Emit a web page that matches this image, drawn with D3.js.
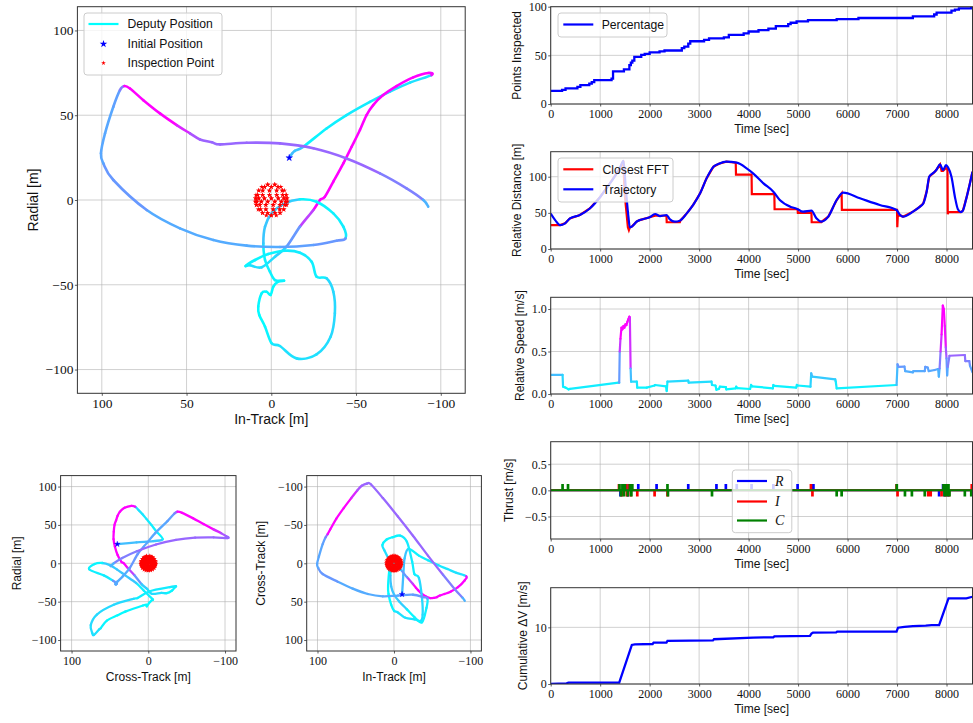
<!DOCTYPE html>
<html>
<head>
<meta charset="utf-8">
<script src="https://cdn.jsdelivr.net/npm/d3@7"></script>
<style>
  body { margin: 0; background: #fff; }
  svg { display: block; }
</style>
</head>
<body>
<svg id="fig" width="973" height="723"></svg>
<script>
// ---------------- Deputy trajectory (Hill frame, metres) ----------------
const trajInTrack = [
  -10.6, -12.2, -13.9, -19.0, -32.6, -44.4, -58.2, -70.0, -81.8, -94.5,
  -92.6, -83.7, -73.9, -66.0, -60.1, -56.2, -52.3, -47.4, -42.5, -36.6, -31.6, -28.7, -24.8, -16.9, -9.0, -2.2, 5.7,
  12.6, 15.1, 9.6, 1.8, -8.1, -16.9, -23.8, -26.7, -32.6, -36.6, -37.5, -35.0, -26.7, -14.9, -5.1, -0.2, 3.7, 7.1, 7.7, 5.7, 2.8, 0.4, -1.2, -4.1, -7.5,
  -2.2, 0.8, 3.7, 4.7, 3.7, -0.2, -7.1, -16.9, -26.7, -36.6, -42.5, -43.8,
  -38.5, -24.8, -5.1, 14.5, 34.2, 53.9, 73.5, 93.2, 99.1, 100.5, 98.1, 93.2, 89.3, 86.7,
  83.4, 75.5, 65.7, 55.8, 48.0, 42.1, 35.0, 30.3,
  14.5, -5.1, -24.8, -44.4, -64.1, -79.8, -89.7, -92.6
];
const trajCrossTrack = [
  40.4, 15.3, -6.5, -18.7, -10, -4, 2.5, 7.5, 12.5, 17,
  22, 31, 37, 40, 42, 44, 45, 45.3, 43.5, 40, 35, 32, 27, 18, 8.5, 1.5, -4.4,
  -17, -24, -31, -34, -36, -28, -2, 14, 19, 45, 67, 75, 73, 71, 64, 62, 54, 40, 30, 7, 2, 2, -1.5, -4.5, -5,
  -6, -1, 6, 16, 30, 41, 50, 60, 70, 77, 58, 46,
  44, 41, 42, 43, 40, 33, 24, 14, 6, 1, -9, -25, -34, -38,
  -44, -58, -72, -85, -95, -101, -104, -103,
  -85, -61, -36, -10, 15, 34, 45, 49
];
const trajRadial = [
  24.9, 27.3, 29.0, 31.5, 42.2, 50.1, 57.9, 63.9, 69.2, 73.7,
  74.9, 72.3, 67.2, 61.9, 56.0, 50.1, 41.3, 31.4, 21.6, 10.8, 1.9, 0.0, -5.9, -15.7, -27.5, -33.4, -39.7,
  -38.5, -38.9, -35.4, -31.9, -29.9, -31.1, -36.4, -45.2, -46.2, -54.1, -66.8, -80.6, -91.0, -93.4, -86.1, -84.5, -74.7, -67.8, -62.9, -55.0, -54.1, -56.0, -51.1, -48.2, -47.6,
  -47.2, -42.3, -35.4, -25.6, -15.7, -7.9, -2.4, 0.4, -1.0, -7.9, -15.7, -22.6,
  -24.0, -26.5, -27.7, -26.9, -23.6, -16.7, -5.9, 11.8, 21.6, 27.5, 39.3, 55.0, 64.8, 67.2,
  65.8, 58.9, 51.1, 44.2, 39.3, 35.7, 34.0, 32.8,
  33.8, 33.4, 30.5, 24.5, 15.7, 6.9, 0.0, -3.9
];
const trajSpeed = [
  0.22, 0.22, 0.22, 0.2, 0.08, 0.09, 0.10, 0.11, 0.12, 0.13,
  0.7, 0.78, 0.8, 0.8, 0.82, 0.85, 0.88, 0.9, 0.9, 0.9, 0.88, 0.85, 0.8, 0.55, 0.32, 0.18, 0.14,
  0.14, 0.12, 0.075, 0.075, 0.08, 0.1, 0.1, 0.09, 0.09, 0.15, 0.15, 0.15, 0.14, 0.13, 0.13, 0.12, 0.08, 0.06, 0.06, 0.07, 0.07, 0.06, 0.06, 0.07, 0.07,
  0.08, 0.08, 0.09, 0.09, 0.2, 0.2, 0.19, 0.18, 0.07, 0.08, 0.09, 0.1,
  0.33, 0.32, 0.3, 0.27, 0.27, 0.27, 0.27, 0.32, 0.32, 0.28, 0.28, 0.28, 0.3, 0.4,
  0.9, 1.03, 0.95, 0.8, 0.62, 0.5, 0.46, 0.45,
  0.45, 0.45, 0.45, 0.45, 0.45, 0.39, 0.38, 0.25
];
// Speed range mapped onto the cyan-to-magenta color scale (values above are clipped)
const speedColorLimits = [0.05, 0.72];

// Inspection points on a sphere around the chief: latitude rings and points per ring
const inspectionRadius = 9.5;
const inspectionRingLat = [-72, -54, -36, -18, -6, 6, 18, 36, 54, 72];
const inspectionRingCount = [4, 8, 11, 13, 14, 14, 13, 11, 8, 4];

// ---------------- Time histories ----------------
const timeTicks = [0, 1000, 2000, 3000, 4000, 5000, 6000, 7000, 8000];

const pointsInspected = [
  [0, 13.5], [230, 14.5], [300, 16], [540, 17.5], [600, 19.5], [780, 21], [830, 22.5], [880, 24.5],
  [1230, 26], [1260, 33.5], [1480, 35.5], [1590, 40], [1620, 42.5], [1650, 44.5], [1690, 48.5],
  [1830, 50.5], [1900, 51.5], [2000, 53], [2200, 54], [2300, 55], [2650, 57.5], [2700, 59],
  [2780, 62], [2820, 64.5], [3100, 66], [3200, 67.5], [3500, 68.5], [3600, 71], [3900, 72.5],
  [4000, 74.5], [4200, 76], [4400, 77.5], [4550, 80], [4800, 82], [4850, 83.5], [4970, 85],
  [5200, 86.3], [5780, 87.3], [6220, 88.4], [7320, 90], [7750, 92], [7800, 94], [8100, 96],
  [8170, 97], [8250, 98.2], [8500, 99], [8525, 99]
];

const distTrajectory = [
  [0, 49], [90, 40], [190, 33], [290, 35.5], [390, 42.4], [590, 47], [790, 56], [1000, 72],
  [1200, 91], [1400, 112], [1470, 122], [1520, 82], [1570, 45], [1600, 30], [1640, 31],
  [1740, 38], [1800, 40], [2000, 44], [2110, 48.4], [2210, 45.6], [2340, 47], [2410, 41],
  [2510, 37.8], [2610, 39.2], [2750, 49.3], [2880, 61], [3020, 77], [3150, 97.7], [3290, 113.9],
  [3400, 118], [3550, 120.8], [3760, 119.4], [3960, 111.6], [4090, 104.7], [4300, 90.8], [4500, 79.3],
  [4630, 67.8], [4840, 58.6], [4970, 55.8], [5100, 51.6], [5270, 53], [5370, 42.4], [5470, 37.8],
  [5610, 44.7], [5780, 67.8], [5910, 77.9], [6250, 70.1], [6650, 60.9], [6990, 53.9], [7060, 47],
  [7120, 44.7], [7330, 52], [7450, 58], [7530, 63], [7600, 80], [7650, 100], [7750, 106],
  [7800, 110], [7870, 117], [7930, 109], [7990, 116], [8030, 113], [8100, 100], [8170, 72],
  [8230, 55], [8290, 51], [8330, 53], [8400, 70], [8470, 90], [8525, 107]
];

const distClosestFFT = [
  [0, 33], [190, 33], [290, 35.5], [390, 42.4], [590, 47], [790, 56], [1000, 72], [1200, 91],
  [1400, 112], [1470, 122], [1490, 80], [1560, 30], [1580, 26], [1600, 30], [1640, 31],
  [1740, 38], [1800, 40], [2000, 44], [2110, 46], [2340, 46], [2345, 37], [2610, 37],
  [2620, 39.2], [2750, 49.3], [2880, 61], [3020, 77], [3150, 97.7], [3290, 113.9], [3400, 118],
  [3550, 120.8], [3740, 119.4], [3745, 103], [4060, 103], [4065, 76], [4520, 76], [4525, 55],
  [4990, 55], [4995, 50], [5270, 50], [5275, 37], [5470, 37], [5480, 38], [5610, 44.7],
  [5780, 67.8], [5880, 77], [5885, 54], [6990, 54], [7000, 54], [7005, 30], [7015, 45],
  [7060, 47], [7120, 44.7], [7330, 52], [7450, 58], [7530, 63], [7600, 80], [7650, 100],
  [7750, 106], [7800, 110], [7870, 117], [7900, 108], [7930, 108], [7990, 112], [8020, 110],
  [8025, 48], [8035, 51], [8290, 51], [8330, 53], [8400, 70], [8470, 90], [8525, 107]
];

const relSpeed = [
  [0, 0.224], [240, 0.224], [250, 0.086], [300, 0.075], [360, 0.055], [390, 0.06], [1370, 0.133],
  [1385, 0.133], [1395, 0.5], [1410, 0.65], [1430, 0.78], [1450, 0.76], [1470, 0.8], [1490, 0.78],
  [1510, 0.82], [1530, 0.81], [1550, 0.85], [1570, 0.88], [1590, 0.91], [1600, 0.9], [1615, 0.3],
  [1625, 0.145], [1740, 0.145], [1750, 0.075], [1940, 0.075], [2100, 0.1], [2110, 0.106],
  [2330, 0.09], [2345, 0.035], [2360, 0.145], [2780, 0.157], [2790, 0.133], [3250, 0.145],
  [3260, 0.106], [3330, 0.1], [3350, 0.05], [3400, 0.06], [3420, 0.086], [3540, 0.08],
  [3550, 0.055], [3740, 0.067], [3750, 0.086], [3770, 0.07], [4030, 0.059], [4050, 0.106],
  [4070, 0.09], [4490, 0.067], [4500, 0.106], [4520, 0.095], [4960, 0.075], [4975, 0.106],
  [4990, 0.1], [5250, 0.086], [5265, 0.243], [5285, 0.204], [5750, 0.173], [5760, 0.15],
  [5780, 0.067], [6990, 0.106], [7010, 0.349], [7030, 0.32], [7150, 0.322], [7165, 0.27],
  [7320, 0.255], [7330, 0.27], [7560, 0.27], [7570, 0.32], [7620, 0.31], [7640, 0.27],
  [7760, 0.282], [7830, 0.294], [7845, 0.204], [7860, 0.3], [7880, 0.5], [7900, 0.7],
  [7925, 1.04], [7945, 1.0], [7965, 0.8], [7985, 0.55], [8000, 0.42], [8012, 0.22],
  [8025, 0.32], [8060, 0.45], [8370, 0.459], [8380, 0.388], [8460, 0.388], [8475, 0.33],
  [8525, 0.255]
];

// Thrust pulses [time, value]
const thrustR = [
  [1410, -0.1], [1460, 0.1], [1530, 0.1], [1560, -0.1], [1770, 0.1], [2140, 0.1], [2780, 0.1],
  [3350, 0.1], [3540, 0.1], [3760, 0.1], [4060, 0.1], [4500, 0.1], [4990, 0.1], [5270, 0.1],
  [5310, 0.1], [7850, -0.1], [7930, 0.1], [7960, -0.1], [8000, 0.1], [8030, -0.1]
];
const thrustI = [
  [1380, 0.1], [1440, -0.1], [1470, 0.1], [1520, 0.1], [1540, -0.1], [1580, 0.1], [1620, -0.1],
  [1750, -0.1], [2100, -0.1], [2360, -0.1], [5260, 0.1], [5290, -0.1], [6990, 0.1], [7010, -0.1],
  [7630, -0.1], [7680, -0.1], [7900, -0.1], [7950, 0.1], [7980, -0.1], [8020, 0.1], [8050, -0.1],
  [8510, 0.1]
];
const thrustC = [
  [240, 0.1], [350, 0.1], [1390, 0.1], [1420, -0.1], [1450, 0.1], [1480, -0.1], [1500, 0.1],
  [1560, -0.1], [1600, 0.1], [1630, -0.1], [1650, 0.1], [2360, 0.1], [2370, -0.1], [3260, -0.1],
  [5780, -0.1], [5880, -0.1], [6995, 0.1], [7160, -0.1], [7300, -0.1], [7560, -0.1], [7940, 0.1],
  [7960, -0.1], [7990, 0.1], [8010, -0.1], [8040, 0.1], [8060, -0.1], [8370, -0.1], [8500, -0.1]
];

const cumulativeDV = [
  [0, 0], [320, 0.12], [360, 0.24], [1385, 0.24], [1640, 6.9], [1700, 7.0], [2060, 7.06],
  [2080, 7.3], [2340, 7.3], [2360, 7.6], [3280, 7.7], [3300, 7.9], [4090, 8.2], [4500, 8.24],
  [4520, 8.4], [5240, 8.5], [5270, 8.9], [5300, 9.06], [5770, 9.1], [5790, 9.24], [6990, 9.24],
  [7020, 9.94], [7150, 10.1], [7320, 10.2], [7580, 10.3], [7700, 10.4], [7850, 10.4],
  [8040, 15.1], [8400, 15.1], [8525, 15.4]
];

// ---------------- Drawing ----------------
const svg = d3.select("#fig");
const defs = svg.append("defs");
const TICK_FONT = "'Liberation Serif', 'DejaVu Serif', serif";
const LABEL_FONT = "'Liberation Sans', Arial, sans-serif";
const INK = "#333";

const speedColor = d3.scaleLinear()
  .domain(speedColorLimits)
  .range(["#00ffff", "#ff00ff"])
  .interpolate(d3.interpolateRgb)
  .clamp(true);

let clipCount = 0;
function makePanel(box, xDom, yDom, o) {
  const x = d3.scaleLinear().domain(xDom).range([box.left, box.right]);
  const y = d3.scaleLinear().domain(yDom).range([box.bottom, box.top]);
  const g = svg.append("g");
  const grid = g.append("g").attr("stroke", "#b0b0b0").attr("stroke-width", 0.8).attr("stroke-opacity", 0.75);
  o.xTicks.forEach(t => grid.append("line").attr("x1", x(t)).attr("x2", x(t)).attr("y1", box.top).attr("y2", box.bottom));
  o.yTicks.forEach(t => grid.append("line").attr("y1", y(t)).attr("y2", y(t)).attr("x1", box.left).attr("x2", box.right));
  const id = "clip" + (clipCount++);
  defs.append("clipPath").attr("id", id).append("rect")
    .attr("x", box.left).attr("y", box.top)
    .attr("width", box.right - box.left).attr("height", box.bottom - box.top);
  const plot = g.append("g").attr("clip-path", `url(#${id})`);
  const frame = g.append("g");

  const fs = o.tickSize || 12;
  const ax = frame.append("g").attr("transform", `translate(0,${box.bottom})`)
    .call(d3.axisBottom(x).tickValues(o.xTicks).tickFormat(o.xFmt || d3.format("d"))
      .tickSizeInner(2.5).tickSizeOuter(0).tickPadding(o.xPad || 2.5));
  const ay = frame.append("g").attr("transform", `translate(${box.left},0)`)
    .call(d3.axisLeft(y).tickValues(o.yTicks).tickFormat(o.yFmt || d3.format("d"))
      .tickSizeInner(2.5).tickSizeOuter(0).tickPadding(1.5));
  [ax, ay].forEach(a => {
    a.select(".domain").remove();
    a.attr("font-family", TICK_FONT).attr("font-size", fs);
    a.selectAll("line").attr("stroke", INK).attr("stroke-width", 0.8);
    a.selectAll("text").attr("fill", "#111");
  });
  frame.append("rect").attr("x", box.left).attr("y", box.top)
    .attr("width", box.right - box.left).attr("height", box.bottom - box.top)
    .attr("fill", "none").attr("stroke", INK).attr("stroke-width", 1);

  const lfs = o.labelSize || 12;
  if (o.xLabel) {
    frame.append("text").attr("x", (box.left + box.right) / 2).attr("y", o.xLabelY)
      .attr("text-anchor", "middle").attr("font-family", LABEL_FONT).attr("font-size", lfs)
      .attr("fill", "#111").text(o.xLabel);
  }
  if (o.yLabel) {
    frame.append("text")
      .attr("transform", `translate(${o.yLabelX},${(box.top + box.bottom) / 2}) rotate(-90)`)
      .attr("text-anchor", "middle").attr("font-family", LABEL_FONT).attr("font-size", lfs)
      .attr("fill", "#111").text(o.yLabel);
  }
  return { x, y, plot, frame, box };
}

function legendBox(layer, x0, y0, w, h) {
  layer.append("rect").attr("x", x0).attr("y", y0).attr("width", w).attr("height", h)
    .attr("rx", 3).attr("fill", "#fff").attr("fill-opacity", 0.8)
    .attr("stroke", "#cccccc").attr("stroke-width", 1);
}
function legendText(layer, x0, y0, label, size, family, italic) {
  layer.append("text").attr("x", x0).attr("y", y0).attr("dy", "0.35em")
    .attr("font-family", family || LABEL_FONT).attr("font-size", size || 12)
    .attr("font-style", italic ? "italic" : null).attr("fill", "#111").text(label);
}

// Colored trajectory drawn segment by segment (Catmull-Rom smoothing in screen space)
function drawTrajectory(panel, xs, ys, width) {
  const P = xs.map((v, i) => [panel.x(v), panel.y(ys[i])]);
  const n = P.length;
  const gT = panel.plot.append("g").attr("fill", "none").attr("stroke-width", width).attr("stroke-linecap", "round");
  for (let i = 0; i < n - 1; i++) {
    const p0 = P[Math.max(i - 1, 0)], p1 = P[i], p2 = P[i + 1], p3 = P[Math.min(i + 2, n - 1)];
    const c1 = [p1[0] + (p2[0] - p0[0]) / 6, p1[1] + (p2[1] - p0[1]) / 6];
    const c2 = [p2[0] - (p3[0] - p1[0]) / 6, p2[1] - (p3[1] - p1[1]) / 6];
    gT.append("path")
      .attr("d", `M${p1[0]},${p1[1]}C${c1[0]},${c1[1]} ${c2[0]},${c2[1]} ${p2[0]},${p2[1]}`)
      .attr("stroke", speedColor(trajSpeed[i + 1]));
  }
}

const inspectionPoints = [];
inspectionRingLat.forEach((lat, k) => {
  const n = inspectionRingCount[k];
  const la = lat * Math.PI / 180;
  for (let j = 0; j < n; j++) {
    const lo = 2 * Math.PI * (j + 0.5 * (k % 2)) / n;
    inspectionPoints.push({
      inTrack: inspectionRadius * Math.cos(la) * Math.cos(lo),
      cross: inspectionRadius * Math.cos(la) * Math.sin(lo),
      radial: inspectionRadius * Math.sin(la)
    });
  }
});
function drawInspection(panel, kx, ky, size) {
  const sym = d3.symbol(d3.symbolStar, size);
  panel.plot.append("g").selectAll("path").data(inspectionPoints).join("path")
    .attr("d", sym).attr("fill", "#ff0000")
    .attr("transform", d => `translate(${panel.x(d[kx])},${panel.y(d[ky])})`);
}
function drawStart(panel, xv, yv, size) {
  panel.plot.append("path").attr("d", d3.symbol(d3.symbolStar, size))
    .attr("fill", "#0000ff").attr("stroke", "#0000ff").attr("stroke-width", 0.4)
    .attr("transform", `translate(${panel.x(xv)},${panel.y(yv)})`);
}

// ---- Main view: In-Track vs Radial ----
const posTicks = [100, 50, 0, -50, -100];
const main = makePanel({ left: 77.4, right: 465.2, top: 6.7, bottom: 393.3 },
  [114.4, -114.4], [-114, 114],
  { xTicks: posTicks, yTicks: posTicks, tickSize: 13.5, xPad: 2.5, labelSize: 14,
    xLabel: "In-Track [m]", xLabelY: 424, yLabel: "Radial [m]", yLabelX: 38 });
drawTrajectory(main, trajInTrack, trajRadial, 2.6);
drawInspection(main, "inTrack", "radial", 9);
drawStart(main, trajInTrack[0], trajRadial[0], 14);
{
  const L = main.frame.append("g");
  legendBox(L, 84, 13, 138, 62);
  L.append("line").attr("x1", 88.5).attr("x2", 118.5).attr("y1", 24).attr("y2", 24)
    .attr("stroke", speedColor.range()[0]).attr("stroke-width", 2.2);
  L.append("path").attr("d", d3.symbol(d3.symbolStar, 18)).attr("fill", "#0000ff")
    .attr("transform", "translate(103.5,44)");
  L.append("path").attr("d", d3.symbol(d3.symbolStar, 7)).attr("fill", "#ff0000")
    .attr("transform", "translate(103.5,63)");
  legendText(L, 127.5, 24, "Deputy Position", 12.2);
  legendText(L, 127.5, 44, "Initial Position", 12.2);
  legendText(L, 127.5, 63, "Inspection Point", 12.2);
}

// ---- Cross-Track vs Radial ----
const smallTicks = [100, 0, -100];
const crossRad = makePanel({ left: 60.6, right: 236, top: 475.6, bottom: 651 },
  [114.3, -114.3], [-114.3, 114.3],
  { xTicks: smallTicks, yTicks: posTicks, tickSize: 12, xPad: 2.5,
    xLabel: "Cross-Track [m]", xLabelY: 680.5, yLabel: "Radial [m]", yLabelX: 20.5 });
drawTrajectory(crossRad, trajCrossTrack, trajRadial, 2.3);
drawInspection(crossRad, "cross", "radial", 9);
drawStart(crossRad, trajCrossTrack[0], trajRadial[0], 10);

// ---- In-Track vs Cross-Track ----
const inCross = makePanel({ left: 306.7, right: 481.4, top: 475.6, bottom: 651 },
  [114.1, -114.3], [114.3, -114.3],
  { xTicks: smallTicks, yTicks: [-100, -50, 0, 50, 100], tickSize: 12, xPad: 2.5,
    xLabel: "In-Track [m]", xLabelY: 680.5, yLabel: "Cross-Track [m]", yLabelX: 264.8 });
drawTrajectory(inCross, trajInTrack, trajCrossTrack, 2.3);
drawInspection(inCross, "inTrack", "cross", 9);
drawStart(inCross, trajInTrack[0], trajCrossTrack[0], 10);

// ---- Time-history panels ----
const TL = 550.7, TR = 972.5, TMAX = 8525;
function timePanel(top, bottom, yDom, yTicks, yFmt, yLabel, yLabelX) {
  return makePanel({ left: TL, right: TR, top, bottom }, [0, TMAX], yDom,
    { xTicks: timeTicks, yTicks, yFmt, tickSize: 12, xPad: 2.5,
      xLabel: "Time [sec]", xLabelY: bottom + 28.8, yLabel, yLabelX });
}

// Points inspected
const p1 = timePanel(6.7, 104, [0, 100], [0, 50, 100], d3.format("d"), "Points Inspected", 521.4);
p1.plot.append("path").datum(pointsInspected)
  .attr("d", d3.line().x(d => p1.x(d[0])).y(d => p1.y(d[1])).curve(d3.curveStepAfter))
  .attr("fill", "none").attr("stroke", "#0000ff").attr("stroke-width", 2.3);
{
  const L = p1.frame.append("g");
  legendBox(L, 558, 13, 109, 24);
  L.append("line").attr("x1", 563.3).attr("x2", 593.3).attr("y1", 24.5).attr("y2", 24.5)
    .attr("stroke", "#0000ff").attr("stroke-width", 2.2);
  legendText(L, 601.7, 24.5, "Percentage", 12.2);
}

// Relative distance
const p2 = timePanel(151.7, 249, [0, 134.6], [0, 50, 100], d3.format("d"), "Relative Distance [m]", 521.4);
const distLine = d3.line().x(d => p2.x(d[0])).y(d => p2.y(d[1]));
p2.plot.append("path").datum(distClosestFFT).attr("d", distLine)
  .attr("fill", "none").attr("stroke", "#ff0000").attr("stroke-width", 2.2);
p2.plot.append("path").datum(distTrajectory).attr("d", distLine.curve(d3.curveMonotoneX))
  .attr("fill", "none").attr("stroke", "#0000ff").attr("stroke-width", 2.2);
{
  const L = p2.frame.append("g");
  legendBox(L, 558, 158, 115, 44);
  L.append("line").attr("x1", 563.3).attr("x2", 593.3).attr("y1", 169.3).attr("y2", 169.3)
    .attr("stroke", "#ff0000").attr("stroke-width", 2.2);
  L.append("line").attr("x1", 563.3).attr("x2", 593.3).attr("y1", 189.3).attr("y2", 189.3)
    .attr("stroke", "#0000ff").attr("stroke-width", 2.2);
  legendText(L, 602.5, 169.3, "Closest FFT", 12.2);
  legendText(L, 602.5, 189.3, "Trajectory", 12.2);
}

// Relative speed, colored by its own value
const p3 = timePanel(297.3, 394, [0, 1.138], [0, 0.5, 1.0], d3.format(".1f"), "Relative Speed [m/s]", 523.6);
{
  const gS = p3.plot.append("g").attr("fill", "none").attr("stroke-width", 2.2).attr("stroke-linecap", "round");
  for (let i = 0; i < relSpeed.length - 1; i++) {
    const a = relSpeed[i], b = relSpeed[i + 1];
    gS.append("line").attr("x1", p3.x(a[0])).attr("y1", p3.y(a[1]))
      .attr("x2", p3.x(b[0])).attr("y2", p3.y(b[1]))
      .attr("stroke", speedColor((a[1] + b[1]) / 2));
  }
}

// Thrust
const p4 = timePanel(441.7, 539, [-0.93, 0.93], [-0.5, 0, 0.5], d3.format(".1f"), "Thrust [m/s]", 512.6);
function pulseSeries(pulses) {
  const pts = [[0, 0]];
  pulses.slice().sort((a, b) => a[0] - b[0]).forEach(([t, v]) => {
    pts.push([t - 7, 0], [t - 7, v], [t + 7, v], [t + 7, 0]);
  });
  pts.push([TMAX, 0]);
  return pts;
}
const thrustLine = d3.line().x(d => p4.x(d[0])).y(d => p4.y(d[1]));
[[thrustR, "#0000ff"], [thrustI, "#ff0000"], [thrustC, "#008000"]].forEach(([s, c]) => {
  p4.plot.append("path").datum(pulseSeries(s)).attr("d", thrustLine)
    .attr("fill", "none").attr("stroke", c).attr("stroke-width", 2);
});
{
  const L = p4.frame.append("g");
  legendBox(L, 732.3, 470, 59.5, 62.7);
  [["R", "#0000ff", 481], ["I", "#ff0000", 501.5], ["C", "#008000", 520.5]].forEach(([lab, c, yy]) => {
    L.append("line").attr("x1", 737).attr("x2", 767).attr("y1", yy).attr("y2", yy)
      .attr("stroke", c).attr("stroke-width", 2.2);
    legendText(L, 775, yy, lab, 14, TICK_FONT, true);
  });
}

// Cumulative delta-V
const p5 = timePanel(587.7, 684, [0, 17], [0, 10], d3.format("d"), "Cumulative \u0394V [m/s]", 527);
p5.plot.append("path").datum(cumulativeDV)
  .attr("d", d3.line().x(d => p5.x(d[0])).y(d => p5.y(d[1])))
  .attr("fill", "none").attr("stroke", "#0000ff").attr("stroke-width", 2.3);
</script>
</body>
</html>
